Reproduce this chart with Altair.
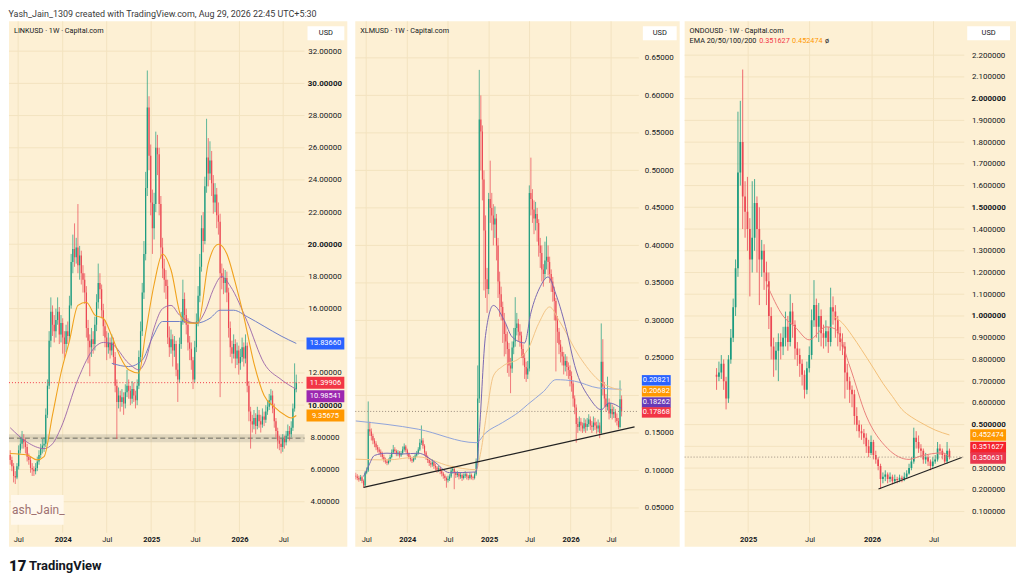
import altair as alt
import pandas as pd

FONT = "Roboto"
BG = "#FDF0D4"
GRID = "#F3E3C0"
GREEN = "#1A9B7F"
RED = "#EB4753"
TXT = "#131722"

HEADER = "Yash_Jain_1309 created with TradingView.com, Aug 29, 2026 22:45 UTC+5:30"

# ---------------- LINKUSD (weekly) ----------------
link_start = "2023-05-29"
link_open0 = 6.9
link_close = [
    6.6, 6.2, 5.6, 5.5, 6.2, 7.2, 7.6, 7.9, 7.7, 7.4,
    6.8, 6.6, 6.1, 6.0, 5.9, 6.1, 6.5, 6.9, 7.3, 7.5,
    7.6, 9.4, 11.2, 14.0, 15.8, 15.0, 14.6, 15.3, 15.8, 14.4,
    15.1, 14.2, 13.8, 14.6, 14.3, 16.2, 18.9, 19.7, 19.2, 19.8,
    18.7, 19.3, 18.2, 17.8, 17.0, 14.8, 14.0, 13.6, 14.1, 13.8,
    15.0, 16.4, 17.6, 17.2, 15.9, 14.9, 14.2, 13.6, 13.9, 13.4,
    13.9, 13.0, 11.2, 10.2, 10.6, 10.2, 10.5, 10.1, 10.8, 11.2,
    10.9, 10.4, 11.0, 10.6, 10.3, 11.2, 13.0, 14.6, 17.0, 19.4,
    23.5, 28.5, 25.5, 22.6, 21.0, 22.5, 26.0, 25.6, 22.5, 19.8,
    18.5, 17.8, 17.4, 14.2, 13.6, 14.1, 13.4, 13.8, 12.2, 11.6,
    13.8, 15.2, 16.6, 15.6, 15.0, 13.9, 13.5, 12.8, 11.6, 13.6,
    15.2, 16.8, 18.6, 21.0, 20.2, 23.6, 25.4, 24.4, 25.2, 23.8,
    22.6, 23.1, 21.8, 21.4, 18.2, 17.9, 17.6, 17.9, 17.0, 14.8,
    13.6, 13.2, 13.8, 12.9, 13.4, 12.6, 13.0, 13.6, 12.9, 13.7,
    11.2, 9.6, 9.0, 8.8, 9.2, 8.7, 9.4, 9.0, 8.8, 9.3,
    9.1, 9.6, 9.9, 10.3, 10.6, 9.8, 9.0, 8.4, 7.8, 7.6,
    7.4, 7.9, 7.7, 8.1, 8.4, 8.2, 8.6, 9.8, 11.0, 11.399,
]
link_high = [
    7.2, 6.8, 6.4, 5.9, 6.4, 7.5, 8.0, 8.4, 8.2, 7.9,
    7.6, 7.0, 6.8, 6.4, 6.2, 6.4, 6.8, 7.2, 7.6, 7.9,
    8.0, 9.8, 11.6, 14.6, 16.7, 16.2, 15.6, 16.0, 16.7, 16.1,
    15.6, 15.4, 14.6, 15.0, 15.2, 16.8, 19.4, 20.6, 21.3, 20.4,
    22.5, 19.9, 19.6, 18.7, 18.2, 17.4, 15.3, 14.4, 14.8, 14.6,
    15.5, 16.9, 18.8, 18.2, 17.5, 16.3, 15.3, 14.6, 14.5, 14.2,
    14.4, 14.2, 13.3, 11.6, 11.1, 10.9, 11.0, 10.8, 11.3, 12.2,
    11.6, 11.2, 11.5, 11.4, 10.9, 11.6, 13.4, 15.2, 17.6, 20.2,
    24.5, 30.8, 29.2, 26.2, 23.4, 23.2, 27.0, 26.8, 26.0, 23.0,
    20.4, 19.1, 18.4, 17.8, 14.9, 14.7, 14.4, 14.3, 14.0, 12.6,
    14.2, 15.8, 17.8, 17.0, 16.0, 15.4, 14.3, 13.9, 13.0, 14.0,
    15.7, 17.4, 19.4, 21.8, 22.0, 24.2, 27.8, 26.6, 26.4, 25.8,
    24.3, 23.8, 23.5, 22.6, 21.9, 18.8, 18.5, 18.4, 18.3, 17.3,
    15.2, 14.0, 14.4, 14.1, 13.9, 13.7, 13.5, 14.2, 13.9, 14.4,
    13.9, 11.5, 9.9, 9.4, 9.7, 9.5, 9.9, 9.7, 9.4, 9.8,
    9.6, 10.0, 10.3, 10.7, 11.0, 10.9, 10.1, 9.2, 8.6, 8.1,
    7.9, 8.2, 8.1, 8.4, 8.8, 8.7, 9.0, 10.1, 12.6, 11.9,
]
link_low = [
    6.3, 5.9, 5.2, 5.1, 5.4, 6.0, 7.0, 7.3, 7.3, 7.0,
    6.5, 6.3, 5.8, 5.6, 5.6, 5.7, 5.9, 6.3, 6.7, 7.0,
    7.1, 7.4, 9.2, 11.0, 13.6, 14.3, 13.9, 14.2, 15.0, 13.8,
    13.9, 13.2, 12.9, 13.3, 13.8, 14.0, 16.0, 18.2, 18.6, 18.8,
    18.2, 17.8, 17.5, 17.0, 16.3, 14.2, 12.6, 11.8, 13.0, 13.2,
    13.4, 14.6, 16.0, 16.6, 15.4, 14.3, 13.6, 12.8, 13.2, 12.9,
    13.1, 12.5, 10.8, 7.9, 9.8, 9.6, 9.9, 9.4, 9.8, 10.5,
    10.4, 10.0, 10.1, 10.2, 9.8, 10.0, 11.0, 12.7, 14.3, 16.6,
    19.0, 23.0, 24.6, 21.8, 19.4, 20.3, 22.0, 24.3, 21.8, 19.1,
    17.9, 17.0, 16.6, 13.8, 13.0, 13.2, 12.4, 13.0, 11.8, 10.2,
    11.4, 13.5, 15.0, 15.1, 14.4, 13.4, 12.8, 12.2, 11.0, 11.4,
    13.3, 14.9, 16.4, 18.3, 19.5, 20.0, 23.2, 23.6, 24.0, 23.0,
    21.9, 22.0, 21.0, 20.6, 10.5, 17.2, 16.9, 17.0, 16.4, 14.2,
    13.0, 12.6, 12.9, 12.3, 12.5, 11.9, 12.2, 12.7, 12.4, 12.6,
    10.8, 9.0, 7.3, 8.3, 8.5, 8.2, 8.5, 8.6, 8.3, 8.6,
    8.7, 8.9, 9.4, 9.7, 10.0, 9.5, 8.6, 8.0, 7.3, 7.2,
    7.0, 7.1, 7.3, 7.5, 7.9, 7.8, 8.0, 8.4, 9.6, 10.8,
]
# EMA read-offs (week index, value)
link_ema_orange_k = [0, 10, 16, 20, 25, 30, 35, 40, 45, 50, 55, 60, 65, 70, 76, 80, 85, 90, 95, 101, 106, 111, 117, 123, 128, 133, 138, 144, 150, 156, 162, 166, 169]
link_ema_orange_v = [7.0, 6.9, 6.6, 6.8, 9.4, 12.0, 14.0, 16.2, 16.4, 15.6, 15.4, 14.3, 13.0, 12.2, 12.0, 14.5, 17.5, 19.4, 18.4, 15.5, 15.1, 15.1, 18.8, 20.0, 19.4, 17.6, 15.5, 12.6, 10.6, 9.9, 9.4, 9.2, 9.357]
link_ema_purple_k = [0, 10, 20, 25, 30, 40, 50, 55, 60, 70, 76, 80, 85, 90, 95, 100, 110, 115, 120, 125, 130, 140, 150, 160, 169]
link_ema_purple_v = [8.6, 7.7, 7.3, 7.6, 8.6, 11.6, 13.6, 13.9, 13.8, 12.6, 12.2, 12.8, 14.8, 16.0, 16.2, 15.6, 15.1, 15.8, 17.2, 18.0, 17.4, 15.2, 12.6, 11.6, 10.985]
link_ema_blue_k = [60, 70, 78, 84, 90, 100, 110, 118, 124, 132, 140, 150, 160, 169]
link_ema_blue_v = [12.6, 12.4, 12.8, 14.2, 15.2, 15.2, 15.1, 15.4, 15.9, 15.9, 15.5, 14.9, 14.3, 13.837]
link_support = [7.7, 7.95, 8.2]
link_last = 11.39906
link_grid = [4, 6, 8, 10, 12, 14, 16, 18, 20, 22, 24, 26, 28, 30, 32]
link_labels = [4, 6, 8, 10, 12, 16, 18, 20, 22, 24, 26, 28, 30, 32]  # 14 sits under the blue tag
link_boxes = [(13.8366, "13.83660", "#2962FF", 0), (11.39906, "11.39906", "#F23645", 0),
              (10.98541, "10.98541", "#9C27B0", 7), (9.35675, "9.35675", "#FF9800", 0)]

# ---------------- XLMUSD (weekly) ----------------
xlm_start = "2023-05-15"
xlm_open0 = 0.093
xlm_close = [
    .092, .090, .088, .091, .086, .080, .097, .100, .155, .152,
    .146, .140, .136, .131, .128, .125, .122, .118, .114, .112,
    .110, .113, .118, .124, .128, .126, .122, .124, .120, .123,
    .128, .132, .127, .122, .118, .115, .113, .116, .120, .123,
    .128, .137, .140, .133, .124, .118, .114, .110, .108, .111,
    .106, .104, .101, .103, .099, .096, .093, .090, .087, .089,
    .092, .100, .102, .097, .094, .096, .092, .094, .090, .093,
    .095, .092, .090, .094, .091, .090, .095, .112, .196, .568,
    .552, .488, .420, .355, .342, .462, .450, .440, .428, .436,
    .400, .352, .335, .318, .300, .282, .272, .262, .240, .236,
    .264, .272, .290, .296, .285, .280, .262, .250, .238, .228,
    .236, .470, .462, .448, .436, .442, .430, .400, .390, .368,
    .362, .380, .385, .378, .362, .352, .338, .326, .300, .285,
    .268, .258, .252, .240, .246, .238, .234, .226, .216, .196,
    .184, .162, .158, .165, .160, .156, .163, .158, .162, .168,
    .160, .158, .164, .160, .156, .160, .150, .245, .212, .196,
    .185, .190, .176, .182, .175, .178, .170, .166, .158, .195,
    .17868,
]
xlm_high = [
    .097, .095, .093, .094, .093, .088, .099, .104, .192, .165,
    .156, .149, .143, .139, .134, .131, .128, .125, .121, .117,
    .115, .116, .121, .128, .134, .131, .128, .127, .126, .126,
    .132, .136, .134, .129, .124, .120, .117, .119, .123, .126,
    .131, .142, .160, .143, .135, .126, .120, .116, .113, .115,
    .113, .109, .106, .106, .105, .101, .098, .095, .092, .093,
    .095, .103, .106, .104, .099, .099, .098, .097, .096, .096,
    .099, .097, .094, .097, .096, .093, .098, .116, .240, .634,
    .600, .560, .500, .440, .370, .470, .513, .470, .455, .452,
    .442, .410, .365, .345, .325, .310, .295, .285, .270, .250,
    .272, .290, .331, .310, .302, .295, .285, .268, .256, .245,
    .246, .480, .517, .475, .460, .458, .450, .435, .410, .400,
    .375, .405, .412, .400, .385, .368, .358, .345, .330, .306,
    .290, .274, .265, .258, .255, .252, .244, .240, .232, .220,
    .200, .188, .170, .172, .170, .164, .170, .168, .170, .175,
    .172, .166, .172, .170, .165, .168, .164, .296, .275, .218,
    .202, .225, .196, .190, .188, .185, .182, .176, .170, .220,
    .200,
]
xlm_low = [
    .088, .087, .085, .086, .083, .077, .079, .095, .098, .146,
    .140, .135, .131, .127, .124, .121, .118, .115, .111, .109,
    .107, .108, .111, .116, .122, .122, .119, .119, .117, .118,
    .121, .125, .124, .119, .115, .112, .110, .111, .114, .118,
    .121, .126, .134, .129, .120, .114, .110, .106, .104, .105,
    .102, .100, .097, .098, .095, .092, .089, .086, .077, .084,
    .086, .090, .096, .075, .090, .091, .088, .089, .086, .088,
    .090, .088, .087, .088, .088, .087, .088, .093, .110, .190,
    .500, .460, .340, .330, .310, .335, .430, .420, .400, .410,
    .380, .330, .305, .300, .270, .252, .255, .230, .225, .203,
    .230, .255, .265, .280, .272, .265, .250, .240, .222, .218,
    .222, .232, .440, .430, .415, .420, .405, .385, .370, .352,
    .345, .355, .368, .360, .350, .338, .325, .300, .232, .270,
    .255, .244, .240, .228, .232, .226, .222, .212, .205, .185,
    .175, .137, .150, .153, .152, .150, .152, .150, .153, .158,
    .154, .150, .153, .154, .149, .151, .143, .148, .200, .185,
    .178, .180, .168, .170, .168, .170, .164, .160, .155, .156,
    .172,
]
xlm_ema_blue_k = [0, 40, 77, 83, 94, 105, 110, 120, 128, 140, 155, 170]
xlm_ema_blue_v = [.166, .155, .137, .150, .164, .179, .188, .205, .221, .219, .210, .20821]
xlm_ema_orange_k = [0, 20, 40, 60, 77, 80, 84, 88, 94, 105, 110, 117, 124, 130, 143, 155, 170]
xlm_ema_orange_v = [.115, .114, .118, .106, .101, .125, .180, .226, .239, .250, .261, .296, .318, .300, .252, .221, .20682]
xlm_ema_purple_k = [5, 8, 12, 20, 30, 40, 50, 60, 77, 79, 83, 88, 95, 100, 108, 112, 118, 123, 128, 135, 140, 150, 157, 162, 170]
xlm_ema_purple_v = [.092, .105, .120, .123, .122, .123, .112, .097, .098, .150, .280, .320, .300, .278, .270, .310, .345, .358, .335, .285, .240, .195, .181, .190, .18262]
xlm_trend = [("2023-06-19", 0.0775), ("2026-10-14", 0.158)]
xlm_last = 0.17868
xlm_grid = [0.05, 0.10, 0.15, 0.20, 0.25, 0.30, 0.35, 0.40, 0.45, 0.50, 0.55, 0.60, 0.65]
xlm_labels = [0.05, 0.10, 0.15, 0.25, 0.30, 0.35, 0.40, 0.45, 0.50, 0.55, 0.60, 0.65]  # 0.20 under the tags
xlm_boxes = [(0.20821, "0.20821", "#2962FF", -9), (0.20682, "0.20682", "#FF9800", 1),
             (0.18262, "0.18262", "#673AB7", -6), (0.17868, "0.17868", "#F23645", 1)]

# ---------------- ONDOUSD (weekly) ----------------
ondo_start = "2024-09-30"
ondo_open0 = 0.73
ondo_close = [
    .72, .74, .78, .70, .62, .80, .90, 1.04, 1.22, 1.66,
    1.80, 1.55, 1.48, 1.40, 1.26, 1.36, 1.52, 1.40, 1.26, 1.30,
    1.20, 1.16, 1.00, .86, .80, .84, .88, .86, .90, .95,
    .88, 1.02, .96, .85, .82, .78, .73, .66, .76, .82,
    .98, 1.05, .95, 1.00, .92, .90, .93, .88, 1.04, 1.02,
    .98, .92, .88, .86, .74, .70, .66, .64, .54, .50,
    .47, .46, .44, .40, .37, .42, .36, .34, .31, .25,
    .26, .27, .25, .26, .24, .25, .245, .255, .25, .26,
    .275, .30, .33, .44, .42, .39, .38, .34, .35, .33,
    .31, .33, .34, .39, .38, .36, .33, .38, .350631,
]
ondo_high = [
    .76, .79, .82, .80, .72, .82, .94, 1.08, 1.26, 1.94,
    1.99, 2.134, 1.62, 1.64, 1.45, 1.62, 1.63, 1.55, 1.50, 1.35,
    1.33, 1.25, 1.20, 1.04, .90, .88, .92, .92, .95, 1.02,
    1.00, 1.10, 1.06, .98, .88, .85, .80, .75, .79, .86,
    1.03, 1.165, 1.08, 1.06, 1.03, .96, .98, .95, 1.13, 1.09,
    1.05, 1.00, .95, .92, .88, .78, .72, .68, .66, .58,
    .52, .50, .48, .46, .43, .45, .43, .38, .35, .32,
    .28, .29, .28, .28, .27, .27, .26, .27, .265, .28,
    .29, .32, .35, .486, .47, .45, .41, .39, .37, .36,
    .34, .35, .36, .42, .41, .39, .37, .42, .39,
]
ondo_low = [
    .66, .70, .71, .66, .57, .60, .78, .88, 1.00, 1.18,
    1.60, 1.40, 1.36, 1.30, 1.09, 1.20, 1.30, 1.20, 1.05, 1.18,
    1.12, 1.05, .94, .80, .72, .75, .70, .80, .82, .86,
    .84, .86, .90, .80, .77, .72, .68, .62, .64, .74,
    .80, .95, .90, .88, .86, .85, .86, .83, .86, .96,
    .90, .86, .84, .82, .62, .66, .60, .58, .50, .47,
    .44, .43, .41, .37, .35, .36, .34, .32, .29, .204,
    .23, .24, .23, .235, .225, .23, .23, .235, .235, .24,
    .25, .27, .29, .32, .39, .37, .35, .32, .32, .31,
    .29, .30, .32, .33, .36, .34, .32, .32, .34,
]
ondo_ema_red_k = [21, 28, 33, 39, 46, 50, 56, 63, 72, 81, 86, 95, 98]
ondo_ema_red_v = [1.15, 1.00, 0.95, 0.89, 0.95, 0.94, 0.77, 0.54, 0.39, 0.34, 0.356, 0.37, 0.351627]
ondo_ema_orange_k = [49, 53, 57, 61, 66, 70, 74, 78, 82, 86, 92, 98]
ondo_ema_orange_v = [1.00, 0.967, 0.91, 0.845, 0.76, 0.69, 0.63, 0.57, 0.535, 0.509, 0.475, 0.452474]
ondo_trend = [("2026-01-20", 0.204), ("2026-09-22", 0.349)]
ondo_last = 0.350631
ondo_grid = [0.1, 0.2, 0.3, 0.4, 0.5, 0.6, 0.7, 0.8, 0.9, 1.0, 1.1, 1.2, 1.3, 1.4, 1.5, 1.6, 1.7, 1.8, 1.9, 2.0, 2.1, 2.2]
ondo_labels = [0.1, 0.2, 0.3, 0.5, 0.6, 0.7, 0.8, 0.9, 1.0, 1.1, 1.2, 1.3, 1.4, 1.5, 1.6, 1.7, 1.8, 1.9, 2.0, 2.1, 2.2]
ondo_boxes = [(0.452474, "0.452474", "#FF9800", 0), (0.351627, "0.351627", "#F5222D", -9.5),
              (0.350631, "0.350631", "#E8384F", 1)]

XT_A = ["2023-07-01", "2024-01-01", "2024-07-01", "2025-01-01", "2025-07-01", "2026-01-01", "2026-07-01"]
XT_B = ["2025-01-01", "2025-07-01", "2026-01-01", "2026-07-01"]

PH = 528


def ms(s):
    return int(pd.Timestamp(s, tz="UTC").value // 10**6)


def candles(start, open0, close, high, low):
    n = len(close)
    dates = pd.date_range(start, periods=n, freq="7D").strftime("%Y-%m-%d")
    opens = [open0] + list(close[:-1])
    return pd.DataFrame({"date": dates, "o": opens, "c": close, "h": high, "l": low})


def ema_df(start, ks, vs):
    dates = [(pd.Timestamp(start) + pd.Timedelta(days=7 * k)).strftime("%Y-%m-%d") for k in ks]
    return pd.DataFrame({"date": dates, "v": vs})


def panel(cfg):
    pw, ph, plot_w = cfg["pw"], PH, cfg["plot_w"]
    xdom = [ms(cfg["xdom"][0]), ms(cfg["xdom"][1])]
    ydom = cfg["ydom"]

    xaxis = alt.Axis(
        orient="bottom", offset=-13, values=[ms(d) for d in cfg["xticks"]],
        labelExpr="utcFormat(datum.value, '%m') == '01' ? utcFormat(datum.value, '%Y') : 'Jul'",
        labelFontWeight=alt.ExprRef(expr="utcFormat(datum.value, '%m') == '01' ? 'bold' : 'normal'"),
        domain=False, ticks=False, tickSize=0, grid=False, labelPadding=2, labelFontSize=7.5,
        labelColor=TXT, labelFont=FONT, labelFlush=False, labelOverlap=False, labelAlign="center")
    ykw = dict(orient="right", offset=cfg["label_cx"] - pw, values=cfg["ylabels"], format=cfg["yfmt"],
               labelAlign="center", labelBaseline="middle", labelPadding=0, ticks=False, tickSize=0,
               domain=False, grid=False, labelFontSize=8, labelColor=TXT, labelFont=FONT,
               labelOverlap=False, labelFlush=False)
    if cfg.get("bold"):
        ykw["labelFontWeight"] = alt.ExprRef(expr=cfg["bold"])
    yaxis = alt.Axis(**ykw)

    def X(f):
        return alt.X(f, type="temporal", scale=alt.Scale(type="utc", domain=xdom), axis=xaxis, title=None)

    def Y(f):
        return alt.Y(f, type="quantitative", scale=alt.Scale(domain=ydom, zero=False, nice=False),
                     axis=yaxis, title=None)

    layers = []
    layers.append(alt.Chart(pd.DataFrame({"v": cfg["ygrid"]})).mark_rule(color=GRID, strokeWidth=1).encode(
        y=Y("v"), x=alt.value(0), x2=alt.value(plot_w)))
    layers.append(alt.Chart(pd.DataFrame({"d": cfg["xticks"]})).mark_rule(color=GRID, strokeWidth=1).encode(
        x=X("d"), y=alt.value(0), y2=alt.value(ph - 14)))

    if cfg.get("support"):
        lo, mid, hi = cfg["support"]
        sdf = pd.DataFrame({"lo": [lo], "mid": [mid], "hi": [hi]})
        layers.append(alt.Chart(sdf).mark_rect(color="#A8A596", opacity=0.35).encode(
            y=Y("lo"), y2="hi", x=alt.value(0), x2=alt.value(plot_w)))
        layers.append(alt.Chart(sdf).mark_rule(color="#6E6C62", strokeDash=[5, 3], strokeWidth=1).encode(
            y=Y("mid"), x=alt.value(0), x2=alt.value(plot_w)))

    cdf = candles(cfg["start"], cfg["open0"], cfg["close"], cfg["high"], cfg["low"])
    col = alt.condition("datum.c >= datum.o", alt.value(GREEN), alt.value(RED))
    base = alt.Chart(cdf)
    layers.append(base.mark_rule(strokeWidth=cfg["wick_w"], clip=True).encode(
        x=X("date"), y=Y("l"), y2="h", color=col))
    layers.append(base.mark_rule(strokeWidth=cfg["body_w"], clip=True).encode(
        x=X("date"), y=Y("o"), y2="c", color=col))

    for ks, vs, color, w in cfg["emas"]:
        layers.append(alt.Chart(ema_df(cfg["start"], ks, vs)).mark_line(
            color=color, strokeWidth=w, interpolate="monotone", clip=True).encode(x=X("date"), y=Y("v")))

    if cfg.get("trend"):
        (d1, p1), (d2, p2) = cfg["trend"]
        tdf = pd.DataFrame({"d1": [d1], "d2": [d2], "p1": [p1], "p2": [p2]})
        layers.append(alt.Chart(tdf).mark_rule(color="#222222", strokeWidth=1.2, clip=True).encode(
            x=X("d1"), x2="d2", y=Y("p1"), y2="p2"))

    layers.append(alt.Chart(pd.DataFrame({"v": [cfg["last"]]})).mark_rule(
        color=cfg["last_color"], strokeDash=[1, 2], strokeWidth=1).encode(
        y=Y("v"), x=alt.value(0), x2=alt.value(plot_w)))

    if cfg.get("watermark"):
        wdf = pd.DataFrame({"t": ["ash_Jain_"]})
        layers.append(alt.Chart(wdf).mark_rect(fill="#FFF8EC").encode(
            x=alt.value(2), x2=alt.value(55), y=alt.value(ph - 52), y2=alt.value(ph - 22)))
        layers.append(alt.Chart(wdf).mark_text(align="left", baseline="middle", fontSize=12, font=FONT,
                                               color="#A07272").encode(
            x=alt.value(3), y=alt.value(ph - 37), text="t:N"))

    bx0, bx1 = cfg["box_x"]
    for val, txt, color, shift in cfg["boxes"]:
        bdf = pd.DataFrame({"v": [val], "t": [txt]})
        layers.append(alt.Chart(bdf).mark_rule(color=color, strokeWidth=cfg["box_h"], yOffset=shift).encode(
            y=Y("v"), x=alt.value(bx0), x2=alt.value(bx1)))
        layers.append(alt.Chart(bdf).mark_text(color="white", fontSize=7.5, font=FONT, align="center",
                                               baseline="middle", dy=shift).encode(
            y=Y("v"), x=alt.value((bx0 + bx1) / 2), text="t:N"))

    ux0, ux1 = cfg["usd_x"]
    udf = pd.DataFrame({"t": ["USD"]})
    layers.append(alt.Chart(udf).mark_rect(fill="white").encode(
        x=alt.value(ux0), x2=alt.value(ux1), y=alt.value(5), y2=alt.value(19)))
    layers.append(alt.Chart(udf).mark_text(fontSize=7.5, font=FONT, color=TXT, align="center",
                                           baseline="middle").encode(
        x=alt.value((ux0 + ux1) / 2), y=alt.value(12), text="t:N"))

    for tx, ty, txt, color in cfg["titles"]:
        layers.append(alt.Chart(pd.DataFrame({"t": [txt]})).mark_text(
            fontSize=7.3, font=FONT, color=color, align="left", baseline="middle").encode(
            x=alt.value(tx), y=alt.value(ty), text="t:N"))

    return alt.layer(*layers).properties(width=pw, height=ph,
                                         view=alt.ViewBackground(fill=BG, stroke=None))


p1 = panel(dict(
    pw=340, plot_w=297, xdom=["2023-05-24", "2027-03-23"], ydom=[1.202, 33.855],
    xticks=XT_A, ygrid=link_grid, ylabels=link_labels, yfmt=".5f", label_cx=317,
    bold="datum.value % 10 == 0 ? 'bold' : 'normal'",
    start=link_start, open0=link_open0, close=link_close, high=link_high, low=link_low,
    wick_w=0.7, body_w=1.2,
    emas=[(link_ema_blue_k, link_ema_blue_v, "#6F7FC8", 1.0),
          (link_ema_purple_k, link_ema_purple_v, "#9A62A8", 0.9),
          (link_ema_orange_k, link_ema_orange_v, "#F0A21E", 1.1)],
    support=link_support, last=link_last, last_color="#F23645",
    boxes=link_boxes, box_x=(299, 337), box_h=12, usd_x=(300, 337), watermark=True,
    titles=[(5, 10, "LINKUSD · 1W · Capital.com", TXT)],
))

p2 = panel(dict(
    pw=326, plot_w=285, xdom=["2023-05-13", "2027-05-04"], ydom=[-0.0017, 0.6987],
    xticks=XT_A, ygrid=xlm_grid, ylabels=xlm_labels, yfmt=".5f", label_cx=305,
    start=xlm_start, open0=xlm_open0, close=xlm_close, high=xlm_high, low=xlm_low,
    wick_w=0.7, body_w=1.1,
    emas=[(xlm_ema_blue_k, xlm_ema_blue_v, "#8FA3DA", 1.0),
          (xlm_ema_orange_k, xlm_ema_orange_v, "#F2C486", 1.0),
          (xlm_ema_purple_k, xlm_ema_purple_v, "#7A68B2", 1.0)],
    trend=xlm_trend, last=xlm_last, last_color="#9A8C7E",
    boxes=xlm_boxes, box_x=(288, 317), box_h=10.5, usd_x=(289, 323),
    titles=[(5, 10, "XLMUSD · 1W · Capital.com", TXT)],
))

p3 = panel(dict(
    pw=333, plot_w=281, xdom=["2024-06-28", "2027-03-01"], ydom=[-0.0619, 2.3557],
    xticks=XT_B, ygrid=ondo_grid, ylabels=ondo_labels, yfmt=".6f", label_cx=305,
    bold="abs(datum.value * 2 - round(datum.value * 2)) < 0.000001 ? 'bold' : 'normal'",
    start=ondo_start, open0=ondo_open0, close=ondo_close, high=ondo_high, low=ondo_low,
    wick_w=0.8, body_w=1.7,
    emas=[(ondo_ema_orange_k, ondo_ema_orange_v, "#F3BF78", 1.0),
          (ondo_ema_red_k, ondo_ema_red_v, "#E9807C", 1.0)],
    trend=ondo_trend, last=ondo_last, last_color="#9A8C7E",
    boxes=ondo_boxes, box_x=(287, 323), box_h=11.5, usd_x=(284, 327),
    titles=[(5, 10, "ONDOUSD · 1W · Capital.com", TXT),
            (5, 20, "EMA 20/50/100/200", TXT),
            (75, 20, "0.351627", "#F23645"),
            (108, 20, "0.452474", "#FF9800"),
            (141, 20, "ø", TXT)],
))

fdf = pd.DataFrame({"t": ["17"]})
footer = alt.layer(
    alt.Chart(fdf).mark_text(fontSize=15, font=FONT, fontWeight=900, color="#131722",
                             align="left", baseline="middle").encode(
        x=alt.value(0), y=alt.value(15), text="t:N"),
    alt.Chart(pd.DataFrame({"t": ["TradingView"]})).mark_text(
        fontSize=13, font=FONT, fontWeight="bold", color="#131722", align="left", baseline="middle").encode(
        x=alt.value(20), y=alt.value(15), text="t:N"),
).properties(width=1007, height=26, view=alt.ViewBackground(fill="white", stroke=None))

chart = alt.vconcat(
    alt.hconcat(p1, p2, p3, spacing=4),
    footer,
    spacing=4,
).properties(
    padding=0,
    title=alt.TitleParams(HEADER, anchor="start", fontSize=9, font=FONT, fontWeight="normal",
                          color="#3A3A3A", offset=2),
).configure_view(stroke=None)

chart.save("out.html", embed_options={"renderer": "svg", "actions": False})
